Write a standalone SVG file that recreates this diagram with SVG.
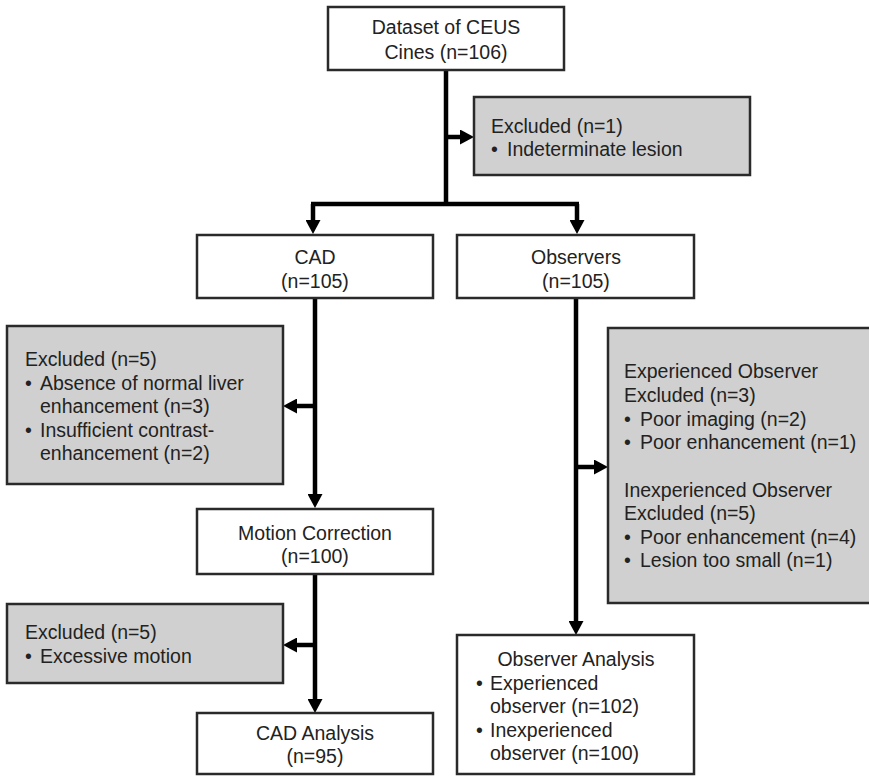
<svg xmlns="http://www.w3.org/2000/svg" width="869" height="776" viewBox="0 0 869 776">
<style>
.box{fill:#fff;stroke:#2a2a2a;stroke-width:2.5}
.ex{fill:#d0d0d0;stroke:#2a2a2a;stroke-width:2.5}
text{font-family:"Liberation Sans",Arial,sans-serif;font-size:19.5px;fill:#222}
.c{text-anchor:middle}
.conn{fill:none;stroke:#000;stroke-width:4.5}
</style>
<defs>
<marker id="ah" markerUnits="userSpaceOnUse" markerWidth="15" markerHeight="15" refX="4" refY="7.5" orient="auto">
<path d="M0,0 L14,7.5 L0,15 z" fill="#000"/>
</marker>
</defs>
<g id="connectors">
<path class="conn" d="M446,70 V204"/>
<path class="conn" d="M311,204 H579"/>
<path class="conn" d="M313,204 V224" marker-end="url(#ah)"/>
<path class="conn" d="M577,204 V224" marker-end="url(#ah)"/>
<path class="conn" d="M446,137 H464" marker-end="url(#ah)"/>
<path class="conn" d="M315,298 V498" marker-end="url(#ah)"/>
<path class="conn" d="M315,406 H293" marker-end="url(#ah)"/>
<path class="conn" d="M315,574 V703" marker-end="url(#ah)"/>
<path class="conn" d="M315,645 H293" marker-end="url(#ah)"/>
<path class="conn" d="M576,298 V625" marker-end="url(#ah)"/>
<path class="conn" d="M576,467 H598" marker-end="url(#ah)"/>
</g>
<g id="dataset">
<rect class="box" x="328" y="7" width="236" height="63"/>
<text class="c" x="446" y="34">Dataset of CEUS</text>
<text class="c" x="446" y="59">Cines (n=106)</text>
</g>
<g id="excluded1">
<rect class="ex" x="474" y="97" width="276" height="78"/>
<text x="491" y="133">Excluded (n=1)</text>
<text x="491" y="156">•</text><text x="507" y="156">Indeterminate lesion</text>
</g>
<g id="cad">
<rect class="box" x="197" y="235" width="236" height="63"/>
<text class="c" x="315" y="264">CAD</text>
<text class="c" x="315" y="288">(n=105)</text>
</g>
<g id="observers">
<rect class="box" x="457" y="235" width="237" height="63"/>
<text class="c" x="576" y="264">Observers</text>
<text class="c" x="576" y="288">(n=105)</text>
</g>
<g id="excluded-cad">
<rect class="ex" x="7" y="326" width="276" height="158"/>
<text x="25" y="366">Excluded (n=5)</text>
<text x="25" y="390">•</text><text x="40" y="390">Absence of normal liver</text>
<text x="40" y="413">enhancement (n=3)</text>
<text x="25" y="437">•</text><text x="40" y="437">Insufficient contrast-</text>
<text x="40" y="460">enhancement (n=2)</text>
</g>
<g id="excluded-observers">
<rect class="ex" x="608" y="328" width="264" height="275"/>
<text x="624" y="378">Experienced Observer</text>
<text x="624" y="402">Excluded (n=3)</text>
<text x="624" y="426">•</text><text x="640" y="426">Poor imaging (n=2)</text>
<text x="624" y="449">•</text><text x="640" y="449">Poor enhancement (n=1)</text>
<text x="624" y="497">Inexperienced Observer</text>
<text x="624" y="520">Excluded (n=5)</text>
<text x="624" y="544">•</text><text x="640" y="544">Poor enhancement (n=4)</text>
<text x="624" y="567">•</text><text x="640" y="567">Lesion too small (n=1)</text>
</g>
<g id="motion">
<rect class="box" x="197" y="509" width="236" height="65"/>
<text class="c" x="315" y="540">Motion Correction</text>
<text class="c" x="315" y="563">(n=100)</text>
</g>
<g id="excluded-motion">
<rect class="ex" x="7" y="604" width="276" height="79"/>
<text x="25" y="639">Excluded (n=5)</text>
<text x="25" y="663">•</text><text x="40" y="663">Excessive motion</text>
</g>
<g id="cad-analysis">
<rect class="box" x="197" y="713" width="236" height="61"/>
<text class="c" x="315" y="740">CAD Analysis</text>
<text class="c" x="315" y="763">(n=95)</text>
</g>
<g id="observer-analysis">
<rect class="box" x="457" y="635" width="237" height="139"/>
<text class="c" x="576" y="666">Observer Analysis</text>
<text x="476" y="690">•</text><text x="490" y="690">Experienced</text>
<text x="490" y="713">observer (n=102)</text>
<text x="476" y="737">•</text><text x="490" y="737">Inexperienced</text>
<text x="490" y="760">observer (n=100)</text>
</g>
</svg>
